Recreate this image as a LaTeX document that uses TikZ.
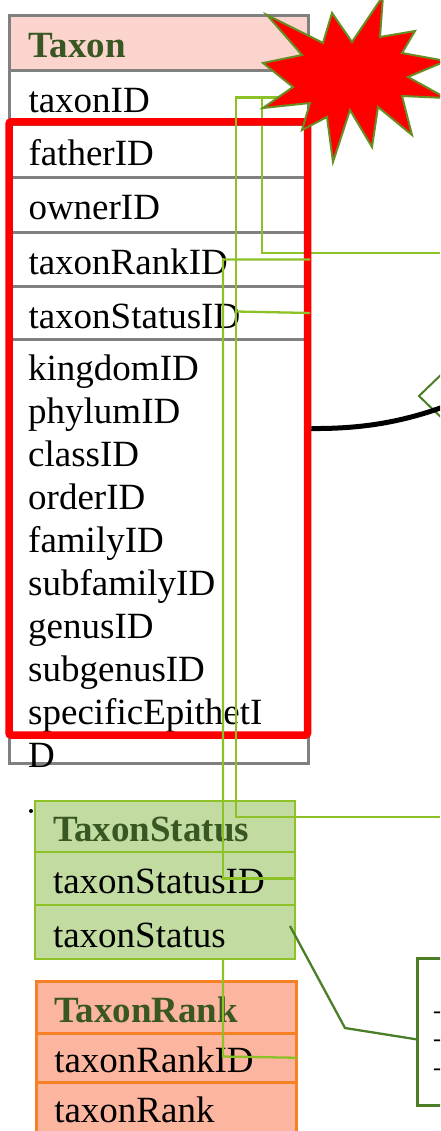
\documentclass[tikz,border=0pt]{standalone}
\usepackage{fontspec}
\setmainfont{Liberation Serif}
\usepackage{tikz}
\usetikzlibrary{positioning,calc}
\definecolor{headpink}{RGB}{251,213,205}
\definecolor{headgreen}{RGB}{56,87,35}
\definecolor{rowgray}{RGB}{128,128,128}
\definecolor{linkgreen}{RGB}{140,194,40}
\definecolor{statusfill}{RGB}{194,219,161}
\definecolor{rankfill}{RGB}{252,181,158}
\definecolor{rankedge}{RGB}{246,128,36}
\definecolor{staredge}{RGB}{104,142,35}
\definecolor{notegreen}{RGB}{76,126,40}

\begin{document}
\begin{tikzpicture}[x=1pt,y=-1pt,
	field/.style={rectangle,anchor=north west,inner ysep=0pt,text height=35pt,text depth=5pt,align=left,font=\fontsize{37}{44}\selectfont},
	taxrow/.style={field,draw=rowgray,fill=white,line width=3pt,inner xsep=19pt,minimum width=299pt,text width=261pt},
	statrow/.style={field,draw=linkgreen,fill=statusfill,line width=2pt,inner xsep=18pt,minimum width=260pt,text width=224pt},
	rankrow/.style={field,draw=rankedge,fill=rankfill,line width=2.5pt,inner xsep=18pt,minimum width=260pt,text width=224pt},
	title/.style={font=\fontsize{37}{44}\selectfont\bfseries,text=headgreen},
	link/.style={draw=linkgreen,line width=2.3pt}]
		
		\clip (0,0) rectangle (440,1131);
		
		\node[taxrow,title,fill=headpink,minimum height=55pt] (taxonHead) at (8,14) {Taxon};
		\node[taxrow,minimum height=54pt] (tID) at (8,69) {taxonID};
		\node[taxrow,minimum height=53pt] (tFather) at (8,123) {fatherID};
		\node[taxrow,minimum height=55pt] (tOwner) at (8,176) {ownerID};
		\node[taxrow,minimum height=54pt] (tRank) at (8,231) {taxonRankID};
		\node[taxrow,minimum height=53pt] (tStatus) at (8,285) {taxonStatusID};
		\node[taxrow,minimum height=424pt] (tRest) at (8,338) {};
		
		\foreach \f [count=\i from 0] in {kingdomID,phylumID,classID,orderID,familyID,subfamilyID,genusID,subgenusID,specificEpithetI,D}
			\node[anchor=base west,inner sep=0pt,font=\fontsize{37}{44}\selectfont] (tList\i) at (28,{380+43.1*\i}) {\f};
		
		\coordinate (outA) at (440,253);
		\coordinate (outB) at (440,817);
		
		\draw[link] (tID.east) -| (262,253) -- (outA);
		
		\node[draw=red,line width=7.5pt,rounded corners=2pt,minimum width=298.5pt,minimum height=613pt,inner sep=0pt] (redbox) at (158.25,428.5) {};
		
		\node[rankrow,title,minimum height=52pt] (rHead) at (35,980) {TaxonRank};
		\node[rankrow,minimum height=49pt] (rRankID) at (35,1032) {taxonRankID};
		\node[rankrow,minimum height=50pt] (rRank) at (35,1081) {taxonRank};
		
		\draw[link] (tRank.east) -| (223,1056.5) -- (rRankID.east);
		
		\node[statrow,title,minimum height=51pt] (sHead) at (34,800) {TaxonStatus};
		\node[statrow,minimum height=53pt] (sStatusID) at (34,851) {taxonStatusID};
		\node[statrow,minimum height=54pt] (sStatus) at (34,904) {taxonStatus};
		
		\draw[link] (sStatusID.east) -| (223,258);
		\draw[link] (tStatus.east) -- (236,311.5);
		\draw[link] (tID.east) -| (236,817) -- (outB);
		
		%\draw[link] (tStatus.east) -| (sStatusID.east);
		\draw[fill=red,draw=staredge,line width=2pt,line join=miter] (267,15) -- (323,43) -- (332,13) -- (352,42) -- (383,-4) -- (380,37) -- (415,31) -- (402,53) -- (446,61) -- (408,77) -- (446,98) -- (402,96) -- (412,135) -- (378,107) -- (372,147) -- (350,110) -- (333,162) -- (327,117) -- (302,130) -- (310,103) -- (263,108) -- (293,87) -- (263,63) -- (302,55) -- cycle;
		
		\draw[notegreen,line width=2pt] (447,369) -- (419,396) -- (447,423);
		\draw[line width=5pt] (redbox.east) .. controls (365,429) and (405,421) .. (446,406);
		
		\node[draw=notegreen,fill=white,line width=2.5pt,minimum width=60pt,minimum height=147pt,anchor=north west,inner sep=0pt] (note) at (416,957) {};
		\foreach \j in {0,1,2}
			\node[anchor=base west,inner sep=0pt,font=\fontsize{24}{28}\selectfont] (noteLine\j) at (433,{1018+28.5*\j}) {-};
		\draw[notegreen,line width=2.3pt] ($(sStatus.east)+(-6,-6)$) -- (345,1028) -- ($(note.west)+(0,7.5)$);
		
		\node[circle,fill=black,inner sep=0pt,minimum size=4pt] (dot) at (31,811) {};
		
\end{tikzpicture}
\end{document}
